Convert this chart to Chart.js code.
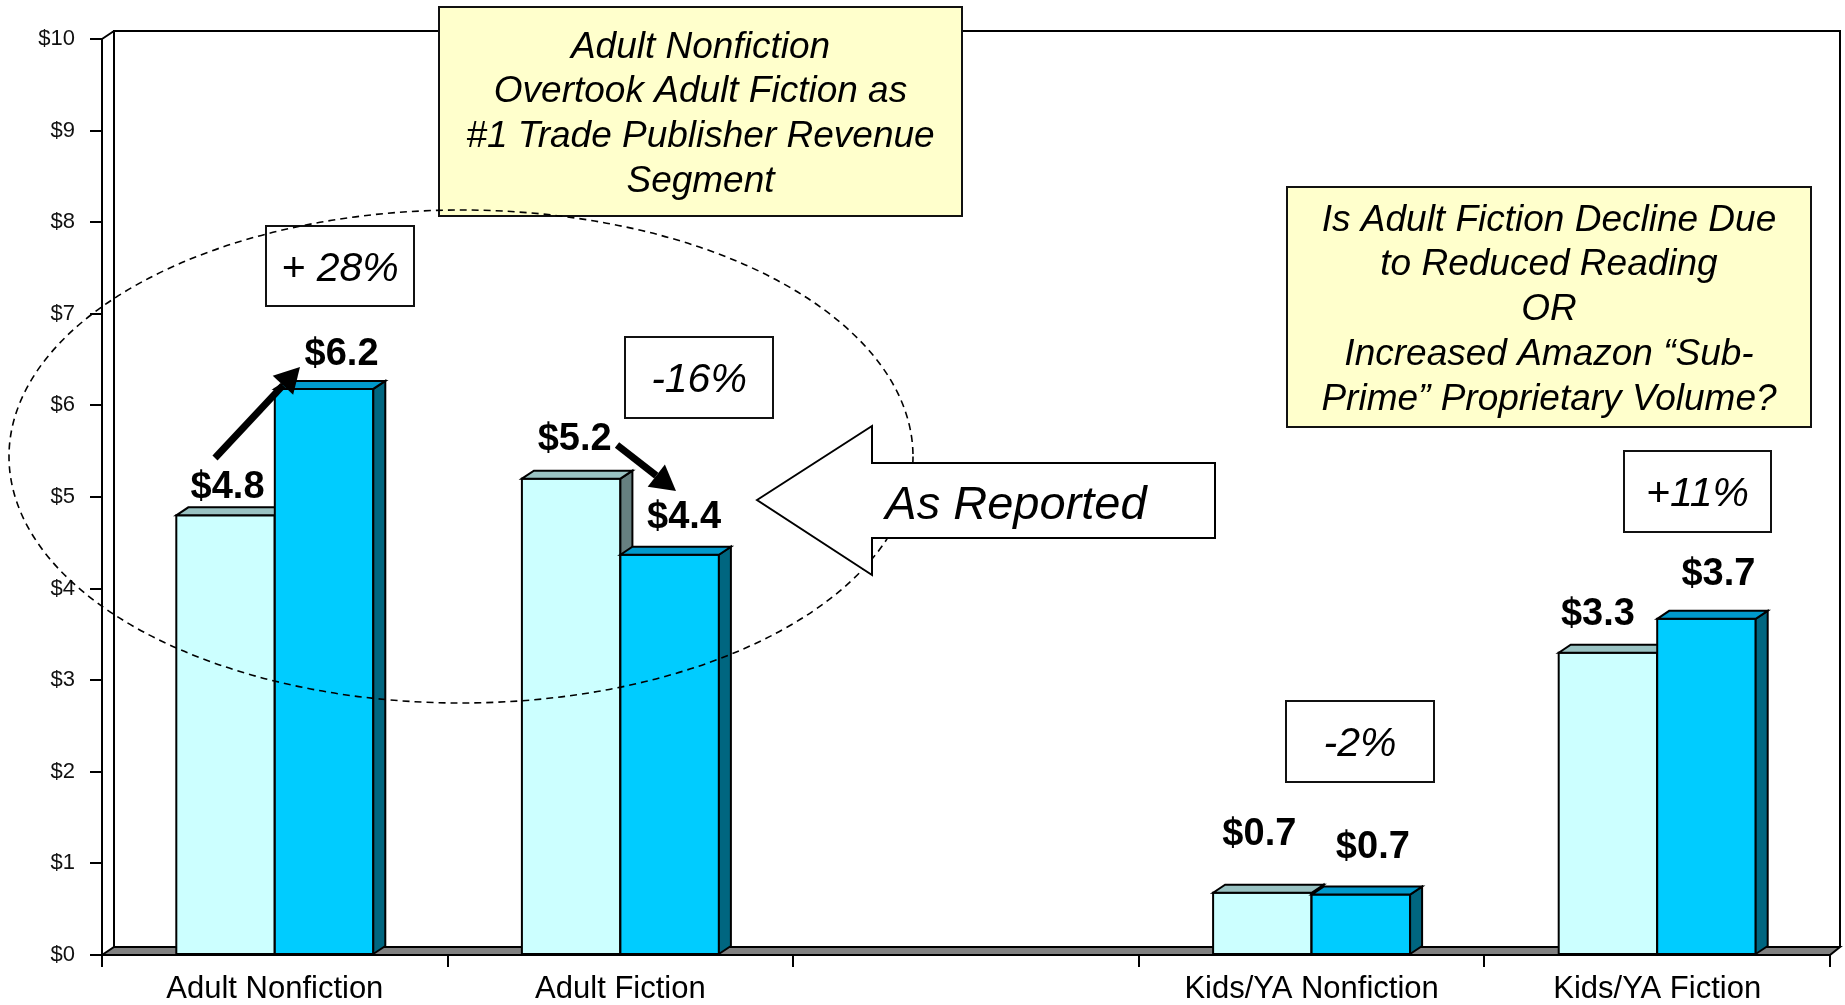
<!DOCTYPE html>
<html><head><meta charset="utf-8">
<script src="https://cdn.jsdelivr.net/npm/chart.js@4.4.1/dist/chart.umd.min.js"></script>
<style>html,body{margin:0;padding:0;background:#fff;overflow:hidden}canvas{display:block}</style>
</head><body>
<canvas id="c" width="1845" height="1005"></canvas>
<script>
// ---- data ----
const categories = ['Adult Nonfiction', 'Adult Fiction', '', 'Kids/YA Nonfiction', 'Kids/YA Fiction'];
const seriesEarlier = [4.8, 5.2, null, 0.68, 3.3];
const seriesLater = [6.18, 4.37, null, 0.66, 3.67];
const yTickLabels = ['$0','$1','$2','$3','$4','$5','$6','$7','$8','$9','$10'];
const changeLabels = ['+ 28%', '-16%', '-2%', '+11%'];
const noteLeft = ['Adult Nonfiction', 'Overtook Adult Fiction as', '#1 Trade Publisher Revenue', 'Segment'];
const noteRight = ['Is Adult Fiction Decline Due', 'to Reduced Reading', 'OR', 'Increased Amazon \u201cSub-', 'Prime\u201d Proprietary Volume?'];
const arrowNote = 'As Reported';

// ---- styles / layout ----
const FONT = '"Liberation Sans", Arial, Helvetica, sans-serif';
const DX = 12, DY = 8;
const frontColors = ['#CCFFFF', '#00CCFF'];
const faceColors = [{top:'#99C2C2', side:'#668080'}, {top:'#0099CC', side:'#006680'}];
const labelNudges = [
  [[2,-17],[3.5,-29],null,[-3,-48],[-10,-28]],
  [[17.5,-24],[14.4,-27],null,[12,-37],[12,-34]]
];

const wallPlugin = {
  id: 'wall3d',
  beforeDatasetsDraw(chart) {
    const {ctx, chartArea: a} = chart;
    ctx.save();
    ctx.strokeStyle = '#000'; ctx.lineWidth = 2; ctx.lineJoin = 'miter';
    ctx.beginPath();
    ctx.moveTo(a.left, a.bottom); ctx.lineTo(a.left + DX, a.bottom - DY);
    ctx.lineTo(a.right + 10, a.bottom - DY); ctx.lineTo(a.right, a.bottom); ctx.closePath();
    ctx.fillStyle = '#808080'; ctx.fill(); ctx.stroke();
    ctx.beginPath();
    ctx.moveTo(a.left + DX, a.bottom - DY); ctx.lineTo(a.left + DX, a.top - DY);
    ctx.lineTo(a.right + 10, a.top - DY); ctx.lineTo(a.right + 10, a.bottom - DY);
    ctx.moveTo(a.left, a.top); ctx.lineTo(a.left + DX, a.top - DY);
    ctx.stroke();
    ctx.restore();
  },
  afterDatasetsDraw(chart) {
    const ctx = chart.ctx;
    ctx.save();
    ctx.strokeStyle = '#000'; ctx.lineWidth = 2; ctx.lineJoin = 'miter';
    chart.data.datasets.forEach((ds, di) => {
      const meta = chart.getDatasetMeta(di);
      meta.data.forEach((bar, i) => {
        if (ds.data[i] == null) return;
        const p = bar.getProps(['x','y','base','width'], true);
        const L = p.x - p.width/2, R = p.x + p.width/2;
        ctx.fillStyle = frontColors[di];
        ctx.fillRect(L, p.y, R - L, p.base - p.y);
        ctx.strokeRect(L, p.y, R - L, p.base - p.y);
        ctx.beginPath();
        ctx.moveTo(R, p.y); ctx.lineTo(R + DX, p.y - DY); ctx.lineTo(R + DX, p.base - DY); ctx.lineTo(R, p.base); ctx.closePath();
        ctx.fillStyle = faceColors[di].side; ctx.fill(); ctx.stroke();
        ctx.beginPath();
        ctx.moveTo(L, p.y); ctx.lineTo(L + DX, p.y - DY); ctx.lineTo(R + DX, p.y - DY); ctx.lineTo(R, p.y); ctx.closePath();
        ctx.fillStyle = faceColors[di].top; ctx.fill(); ctx.stroke();
      });
    });
    ctx.restore();
  }
};

function textBox(ctx, x0, y0, x1, y1, fill, lines, size, spacing, style) {
  ctx.save();
  ctx.fillStyle = fill; ctx.fillRect(x0, y0, x1 - x0, y1 - y0);
  ctx.strokeStyle = '#111'; ctx.lineWidth = 2; ctx.strokeRect(x0, y0, x1 - x0, y1 - y0);
  ctx.fillStyle = '#000'; ctx.textAlign = 'center'; ctx.textBaseline = 'alphabetic';
  ctx.font = (style || 'italic') + ' ' + size + 'px ' + FONT;
  const cx = (x0 + x1) / 2, cy = (y0 + y1) / 2;
  const n = lines.length;
  lines.forEach((t, k) => {
    const mid = cy + (k - (n - 1) / 2) * spacing;
    ctx.fillText(t, cx, mid + 0.358 * size);
  });
  ctx.restore();
}

function thickArrow(ctx, x0, y0, x1, y1) {
  const ang = Math.atan2(y1 - y0, x1 - x0);
  const hl = 25, hw = 14;
  const bx = x1 - hl * Math.cos(ang), by = y1 - hl * Math.sin(ang);
  ctx.save();
  ctx.strokeStyle = '#000'; ctx.fillStyle = '#000'; ctx.lineWidth = 7;
  ctx.beginPath(); ctx.moveTo(x0, y0); ctx.lineTo(bx, by); ctx.stroke();
  ctx.beginPath();
  ctx.moveTo(x1, y1);
  ctx.lineTo(bx + hw * Math.sin(ang), by - hw * Math.cos(ang));
  ctx.lineTo(bx - hw * Math.sin(ang), by + hw * Math.cos(ang));
  ctx.closePath(); ctx.fill();
  ctx.restore();
}

const annotationPlugin = {
  id: 'notes',
  afterDatasetsDraw(chart) {
    const ctx = chart.ctx;
    ctx.save();
    ctx.font = 'bold 38px ' + FONT; ctx.fillStyle = '#000';
    ctx.textAlign = 'center'; ctx.textBaseline = 'alphabetic';
    chart.data.datasets.forEach((ds, di) => {
      const meta = chart.getDatasetMeta(di);
      meta.data.forEach((bar, i) => {
        const v = ds.data[i];
        if (v == null) return;
        const nd = labelNudges[di][i] || [0, -20];
        ctx.fillText('$' + v.toFixed(1), bar.x + nd[0], bar.y + nd[1]);
      });
    });
    ctx.restore();
  },
  afterDraw(chart) {
    const ctx = chart.ctx;
    textBox(ctx, 439, 7, 962, 216, '#FFFFCC', noteLeft, 37, 44.75);
    textBox(ctx, 1287, 187, 1811, 427, '#FFFFCC', noteRight, 37, 44.75);
    textBox(ctx, 266, 226, 414, 306, '#FFFFFF', [changeLabels[0]], 41, 0);
    textBox(ctx, 625, 337, 773, 418, '#FFFFFF', [changeLabels[1]], 41, 0);
    textBox(ctx, 1286, 701, 1434, 782, '#FFFFFF', [changeLabels[2]], 41, 0);
    textBox(ctx, 1624, 451, 1771, 532, '#FFFFFF', [changeLabels[3]], 41, 0);
    ctx.save();
    ctx.strokeStyle = '#000'; ctx.lineWidth = 1.6; ctx.setLineDash([7, 5]);
    ctx.beginPath(); ctx.ellipse(461, 456.5, 452, 246.5, 0, 0, Math.PI * 2); ctx.stroke();
    ctx.restore();
    ctx.save();
    ctx.beginPath();
    ctx.moveTo(757, 500); ctx.lineTo(872, 426); ctx.lineTo(872, 463); ctx.lineTo(1215, 463);
    ctx.lineTo(1215, 538); ctx.lineTo(872, 538); ctx.lineTo(872, 575); ctx.closePath();
    ctx.fillStyle = '#fff'; ctx.fill();
    ctx.strokeStyle = '#000'; ctx.lineWidth = 2; ctx.stroke();
    ctx.font = 'italic 47px ' + FONT; ctx.fillStyle = '#000'; ctx.textAlign = 'center';
    ctx.fillText(arrowNote, 1016, 519);
    ctx.restore();
    thickArrow(ctx, 215, 458, 300, 367);
    thickArrow(ctx, 617, 445, 676, 491);
  }
};

new Chart(document.getElementById('c'), {
  type: 'bar',
  data: {
    labels: categories,
    datasets: [
      {label: 'Earlier', data: seriesEarlier, backgroundColor: frontColors[0], borderColor: '#000', borderWidth: 2, borderSkipped: false},
      {label: 'Later', data: seriesLater, backgroundColor: frontColors[1], borderColor: '#000', borderWidth: 2, borderSkipped: false}
    ]
  },
  options: {
    responsive: false, animation: false, devicePixelRatio: 1,
    layout: {padding: {top: 39, right: 15, left: 0, bottom: 0}},
    datasets: {bar: {categoryPercentage: 0.57, barPercentage: 1.0}},
    plugins: {legend: {display: false}, tooltip: {enabled: false}, title: {display: false}},
    scales: {
      x: {
        offset: true,
        grid: {display: true, offset: true, drawOnChartArea: false, drawTicks: true, tickLength: 12, color: '#000', lineWidth: 2},
        border: {display: true, color: '#000', width: 2},
        ticks: {color: '#000', font: {family: FONT, size: 31}, padding: 4, maxRotation: 0, autoSkip: false},
        afterFit(s) { s.height = 50; }
      },
      y: {
        min: 0, max: 10,
        grid: {display: true, drawOnChartArea: false, drawTicks: true, tickLength: 12, color: '#000', lineWidth: 2},
        border: {display: true, color: '#000', width: 2},
        ticks: {stepSize: 1, color: '#111', font: {family: FONT, size: 22}, padding: 15, callback: (v, i) => yTickLabels[i]},
        afterFit(s) { s.width = 102; }
      }
    }
  },
  plugins: [wallPlugin, annotationPlugin]
});
</script>
</body></html>
